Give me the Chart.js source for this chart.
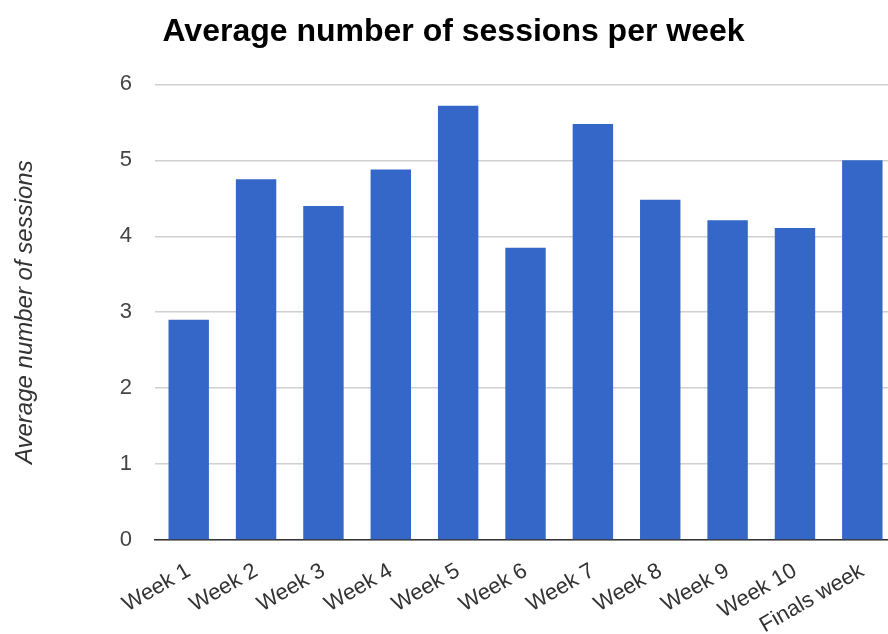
<!DOCTYPE html>
<html><head><meta charset="utf-8">
<script src="https://cdn.jsdelivr.net/npm/chart.js@4.4.0/dist/chart.umd.min.js"></script>
<style>html,body{margin:0;padding:0;background:#fff;overflow:hidden}#wrap{width:888px;height:634px;overflow:hidden}</style>
</head><body><div id="wrap"><canvas id="c" width="896" height="634"></canvas></div>
<script>
const categories = ["Week 1","Week 2","Week 3","Week 4","Week 5","Week 6","Week 7","Week 8","Week 9","Week 10","Finals week"];
const sessions = [2.90,4.75,4.40,4.88,5.72,3.85,5.48,4.48,4.21,4.11,5.00];
const yTicks = [0,1,2,3,4,5,6];
const chartTitle = "Average number of sessions per week";
const yTitle = "Average number of sessions";

new Chart(document.getElementById('c'), {
  type: 'bar',
  data: { labels: categories, datasets: [{ data: sessions, backgroundColor: '#3567c8', borderWidth: 0, categoryPercentage: 0.6, barPercentage: 1 }] },
  options: {
    responsive: false, animation: false,
    layout: { padding: { left: 11, right: 0, top: 0, bottom: 0 } },
    plugins: {
      legend: { display: false }, tooltip: { enabled: false },
      title: { display: true, text: chartTitle, align: 'center', color: '#000',
        font: { family: 'Liberation Sans, Arial', size: 32, weight: 'bold' }, padding: { top: 13, bottom: 33 } }
    },
    scales: {
      x: { grid: { display: false }, border: { color: '#333', width: 1.5 },
        afterFit: s => { s.height = 94; },
        ticks: { color: '#333', font: { family: 'Liberation Sans, Arial', size: 22 }, maxRotation: 30, minRotation: 30, padding: 10 } },
      y: { min: 0, max: 6, afterBuildTicks: a => { a.ticks = yTicks.map(v => ({ value: v })); },
        grid: { color: '#d0d0d0', lineWidth: 1.5, drawTicks: false }, border: { display: false },
        ticks: { color: '#444', font: { family: 'Liberation Sans, Arial', size: 22 }, padding: 23 },
        title: { display: true, text: yTitle, color: '#333', font: { family: 'Liberation Sans, Arial', size: 24, style: 'italic' }, padding: { top: 0, bottom: 57 } } }
    }
  }
});
</script></body></html>
